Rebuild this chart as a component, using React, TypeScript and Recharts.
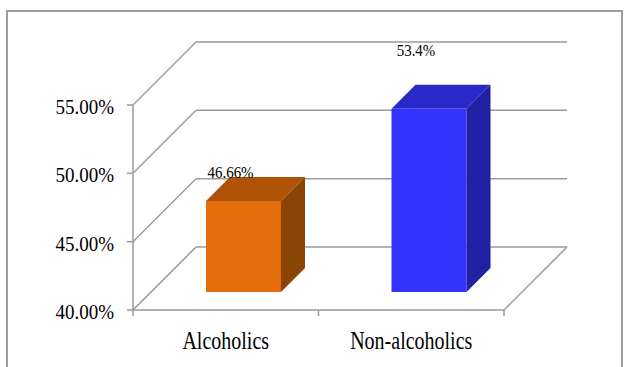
import React from 'react';
import { BarChart, Bar, XAxis, YAxis, CartesianGrid, LabelList } from 'recharts';

// values
const categories = ['Alcoholics', 'Non-alcoholics'];
const percentages = [46.66, 53.4];
const yTicks = [40, 45, 50, 55];

const chartData = categories.map((name, i) => ({ name, value: percentages[i] }));

// fake 3D geometry (oblique projection, 45deg)
const WALL = 63; // depth of floor / side wall
const BAR_OFFSET = 18; // bars sit this far back from the front edge
const BAR_DEPTH = 24;
const GRID = '#9a9a9a';
const SERIF = '"Liberation Serif", "Times New Roman", serif';

const palette = [
    { front: '#E46C0A', top: '#AE5208', side: '#8C4306' },
    { front: '#3333FF', top: '#2929C9', side: '#2020A3' },
];

// each horizontal grid line becomes a side-wall diagonal plus a back-wall line
const renderWallLine = (props: any) => {
    const { x1, y1, x2, y, height, key } = props;
    const bx = x1 + WALL;
    const by = y1 - WALL;
    const isFloor = Math.abs(y1 - (y + height)) < 1;
    return (
        <g key={key}>
            <line x1={x1} y1={y1} x2={bx} y2={by} stroke={GRID} strokeWidth={1.5} />
            <line x1={bx} y1={by} x2={x2 + WALL} y2={by} stroke={GRID} strokeWidth={1.5} />
            {isFloor && <line x1={x2} y1={y1} x2={x2 + WALL} y2={by} stroke={GRID} strokeWidth={1.5} />}
        </g>
    );
};

const Bar3D = (props: any) => {
    const { x, y, width, height, index } = props;
    const c = palette[index % palette.length];
    const fx = x + BAR_OFFSET;
    const fy = y - BAR_OFFSET;
    const d = BAR_DEPTH;
    return (
        <g>
            <rect x={fx} y={fy} width={width} height={height} fill={c.front} />
            <polygon points={`${fx},${fy} ${fx + width},${fy} ${fx + width + d},${fy - d} ${fx + d},${fy - d}`} fill={c.top} />
            <polygon
                points={`${fx + width},${fy} ${fx + width + d},${fy - d} ${fx + width + d},${fy + height - d} ${fx + width},${fy + height}`}
                fill={c.side}
            />
        </g>
    );
};

const renderValueLabel = (props: any) => {
    const vb = props.viewBox ?? props;
    const { x, y, width, height } = vb;
    const bottom = y + height;
    const cx = x + width / 2 + 5;
    const base = bottom - 12 - 1.32 * height;
    return (
        <text transform={`translate(${cx} ${base}) scale(1 1.12)`} textAnchor="middle" fontFamily={SERIF} fontSize={15} fill="#000">
            {`${props.value}%`}
        </text>
    );
};

const PercentTick = (props: any) => {
    const { x, y, payload } = props;
    return (
        <text transform={`translate(${x} ${y + 9}) scale(1 1.08)`} textAnchor="end" fontFamily={SERIF} fontSize={19} fill="#000">
            {`${Number(payload.value).toFixed(2)}%`}
        </text>
    );
};

const CategoryTick = (props: any) => {
    const { x, y, payload, index, visibleTicksCount } = props;
    const half = payload.offset ?? 0;
    const axisY = y - 6;
    const last = index === visibleTicksCount - 1;
    return (
        <g>
            <line x1={x - half} y1={axisY} x2={x - half} y2={axisY + 6} stroke={GRID} strokeWidth={1.5} />
            {last && <line x1={x + half} y1={axisY} x2={x + half} y2={axisY + 6} stroke={GRID} strokeWidth={1.5} />}
            <text transform={`translate(${x} ${axisY + 39}) scale(1 1.3)`} textAnchor="middle" fontFamily={SERIF} fontSize={20} fill="#000">
                {payload.value}
            </text>
        </g>
    );
};

export default function App() {
    return (
        <div style={{ position: 'absolute', left: 0, top: 0, width: 625, height: 367, overflow: 'hidden', background: '#fff' }}>
            <div style={{ position: 'absolute', left: 6, top: 10, width: 613, height: 400, border: '2px solid #9c9c9c' }} />
            <BarChart width={625} height={367} data={chartData} margin={{ top: 105, right: 121, bottom: 0, left: 0 }}>
                <CartesianGrid horizontal={renderWallLine} vertical={false} />
                <XAxis
                    dataKey="name"
                    height={57}
                    interval={0}
                    axisLine={{ stroke: GRID, strokeWidth: 1.5 }}
                    tickLine={false}
                    tickSize={6}
                    tickMargin={0}
                    tick={<CategoryTick />}
                />
                <YAxis
                    width={133}
                    domain={[40, 55]}
                    ticks={yTicks}
                    interval={0}
                    axisLine={{ stroke: GRID, strokeWidth: 1.5 }}
                    tickLine={{ stroke: GRID, strokeWidth: 1.5 }}
                    tickSize={6}
                    tickMargin={13}
                    tick={<PercentTick />}
                />
                <Bar dataKey="value" barSize={75} shape={<Bar3D />} isAnimationActive={false}>
                    <LabelList dataKey="value" content={renderValueLabel} />
                </Bar>
            </BarChart>
        </div>
    );
}
